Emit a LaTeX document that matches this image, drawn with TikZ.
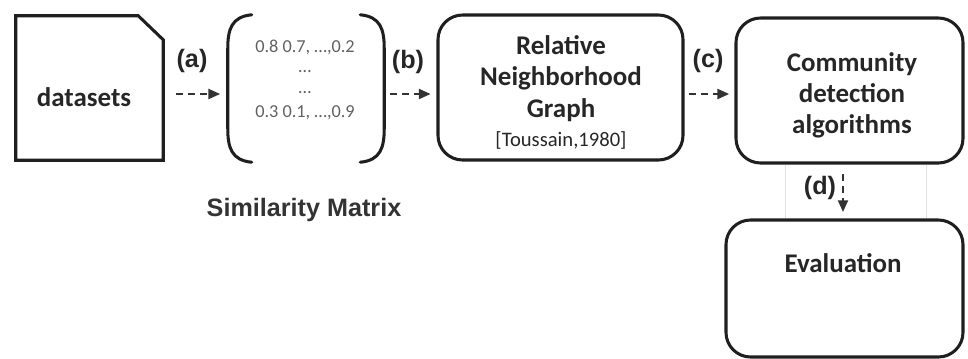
\documentclass[tikz,border=0pt]{standalone}
\usepackage{fontspec}
\setmainfont{Carlito}
\newfontfamily\labfont{Liberation Sans}
\usetikzlibrary{arrows.meta,calc}
\begin{document}
\begin{tikzpicture}[x=0.03cm,y=-0.03cm,
  boxline/.style={line width=2.6pt, draw=black!88},
  rbox/.style={boxline, rounded corners=21pt, inner sep=0pt},
  plainbox/.style={inner sep=0pt},
  boxtxt/.style={anchor=base, inner sep=0pt, text=black!85, font=\fontsize{23}{28}\selectfont\bfseries},
  mattxt/.style={anchor=base, inner sep=0pt, text=black!62, font=\fontsize{15.6}{18}\selectfont},
  lbl/.style={anchor=base, inner sep=0pt, text=black!85, font=\labfont\fontsize{21.5}{25}\selectfont\bfseries},
  arr/.style={draw=black!80, line width=1.8pt, dash pattern=on 6pt off 4.3pt,
     -{Triangle[length=10pt,width=8.5pt]}},
  faint/.style={draw=black!12, line width=0.6pt}]
\useasboundingbox (0,0) rectangle (968,358);

% nodes
\node[plainbox, minimum width=4.41cm, minimum height=4.32cm] (ds) at (89.5,88) {};
\node[plainbox, minimum width=4.68cm, minimum height=4.41cm] (mat) at (306,88.5) {};
\node[rbox, minimum width=7.35cm, minimum height=4.35cm] (rng) at (560.5,87.5) {};
\node[rbox, minimum width=6.81cm, minimum height=4.35cm] (com) at (849.5,90.5) {};
\node[rbox, minimum width=7.11cm, minimum height=4.11cm] (eva) at (844.5,288.5) {};

% datasets shape
\draw[boxline, line join=miter] (ds.north west) -- ($(ds.north east)+(-25,0)$) -- ($(ds.north east)+(0,24)$) -- (ds.south east) -- (ds.south west) -- cycle;

% matrix brackets
\draw[boxline, line cap=round]
  ($(mat.north west)+(24,0)$) .. controls ($(mat.north west)+(4,2)$) and ($(mat.north west)+(0,14)$) .. ($(mat.north west)+(0,34)$)
  -- ($(mat.south west)+(0,-34)$) .. controls ($(mat.south west)+(0,-14)$) and ($(mat.south west)+(4,-2)$) .. ($(mat.south west)+(24,0)$);
\draw[boxline, line cap=round]
  ($(mat.north east)+(-24,0)$) .. controls ($(mat.north east)+(-4,2)$) and ($(mat.north east)+(0,14)$) .. ($(mat.north east)+(0,34)$)
  -- ($(mat.south east)+(0,-34)$) .. controls ($(mat.south east)+(0,-14)$) and ($(mat.south east)+(-4,-2)$) .. ($(mat.south east)+(-24,0)$);

% texts
\node[boxtxt] (tds) at (84,106) {datasets};
\node[mattxt] (m1) at (305,52) {0.8 0.7, …,0.2};
\node[mattxt] (m2) at (305,72) {…};
\node[mattxt] (m3) at (305,93.5) {…};
\node[mattxt] (m4) at (305,117) {0.3 0.1, …,0.9};
\node[lbl, text=black!80] (sim) at (304,216) {Similarity Matrix};

\node[boxtxt] (r1) at (561,54) {Relative};
\node[boxtxt] (r2) at (561,85.5) {Neighborhood};
\node[boxtxt] (r3) at (561,117) {Graph};
\node[anchor=base, inner sep=0pt, text=black!85, font=\fontsize{17.6}{20}\selectfont] (r4) at (561,146) {[Toussain,1980]};

\node[boxtxt] (c1) at (852,71) {Community};
\node[boxtxt] (c2) at (852,102) {detection};
\node[boxtxt] (c3) at (852,133) {algorithms};

\node[boxtxt] (e1) at (843,272) {Evaluation};

% labels
\node[lbl] (la) at (192,67) {(a)};
\node[lbl] (lb) at (408,68) {(b)};
\node[lbl] (lc) at (708,67) {(c)};
\node[lbl] (ld) at (820,194) {(d)};

% faint lines
\coordinate (g1) at (785,0);
\coordinate (g2) at (926,0);
\draw[faint] (com.south -| g1) -- (eva.north -| g1);
\draw[faint] (com.south -| g2) -- (eva.north -| g2);

% connectors
\coordinate (ay) at (0,94);
\coordinate (dx) at (843,0);
\draw[arr, shorten <=11pt, shorten >=6.5pt] (ds.east |- ay) -- (mat.west |- ay);
\draw[arr, shorten <=5pt, shorten >=5pt] (mat.east |- ay) -- (rng.west |- ay);
\draw[arr, shorten <=4pt, shorten >=4.5pt] (rng.east |- ay) -- (com.west |- ay);
\draw[arr, shorten <=8pt, shorten >=5.5pt] (com.south -| dx) -- (eva.north -| dx);
\end{tikzpicture}
\end{document}
